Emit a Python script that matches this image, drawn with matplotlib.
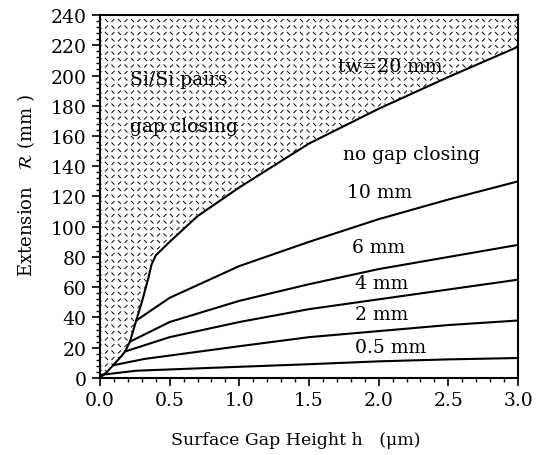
import numpy as np
import matplotlib.pyplot as plt
from matplotlib.collections import LineCollection
from matplotlib.ticker import MultipleLocator

# gap closing boundary (tw = 20 mm)
h_bound = [0, 0.05, 0.10, 0.15, 0.18, 0.215, 0.26, 0.30, 0.35, 0.37, 0.40, 0.50, 0.70, 1.00, 1.50, 2.00, 2.50, 3.00]
r_bound = [0, 4, 9, 14, 17.5, 24, 38, 50, 67, 75, 81, 90, 107, 126, 155, 178, 199, 219]

# curves for smaller widths
h_10 = [0.26, 0.5, 1.0, 1.5, 2.0, 2.5, 3.0]
r_10 = [38, 53, 74, 90, 105, 118, 130]
h_6 = [0.215, 0.5, 1.0, 1.5, 2.0, 2.5, 3.0]
r_6 = [24, 37, 51, 62, 72, 80, 88]
h_4 = [0.18, 0.5, 1.0, 1.5, 2.0, 2.5, 3.0]
r_4 = [17.5, 27, 37, 45.5, 52, 58.5, 65]
h_2 = [0.10, 0.32, 1.0, 1.5, 2.0, 2.5, 3.0]
r_2 = [8.5, 12.6, 21, 27, 31, 35, 38]
h_05 = [0.0, 0.26, 1.0, 1.5, 2.0, 2.5, 3.0]
r_05 = [2, 4.8, 7.4, 9.1, 11, 12.3, 13.2]

plt.rcParams['font.family'] = 'DejaVu Serif'

fig = plt.figure(figsize=(5.41, 4.56), dpi=100)
ax = fig.add_axes([0.1848, 0.1689, 0.7727, 0.796])

# hatched "gap closing" region
poly = ax.fill_between(h_bound, r_bound, 240, facecolor='white', edgecolor='none')
W, H = 418.0, 363.0
step = 6.5
segs = []
for j in range(int(H / step) + 2):
    for i in range(int(W / step) + 2):
        cx = i * step
        cy = j * step
        d = 1.5
        if (i + j) % 2 == 0:
            segs.append([((cx - d) / W, (cy + d) / H), ((cx + d) / W, (cy - d) / H)])
        else:
            segs.append([((cx - d) / W, (cy - d) / H), ((cx + d) / W, (cy + d) / H)])
lc = LineCollection(segs, colors='black', linewidths=0.7, transform=ax.transAxes)
lc.set_clip_path(poly.get_paths()[0], poly.get_transform())
ax.add_collection(lc)

for hh, rr in [(h_bound, r_bound), (h_10, r_10), (h_6, r_6), (h_4, r_4), (h_2, r_2), (h_05, r_05)]:
    ax.plot(hh, rr, color='black', linewidth=1.5)

ax.set_xlim(0, 3.0)
ax.set_ylim(0, 240)
ax.xaxis.set_major_locator(MultipleLocator(0.5))
ax.xaxis.set_minor_locator(MultipleLocator(0.1))
ax.yaxis.set_major_locator(MultipleLocator(20))
ax.yaxis.set_minor_locator(MultipleLocator(4))
ax.xaxis.set_major_formatter(plt.FormatStrFormatter('%.1f'))
ax.tick_params(which='major', direction='out', length=6, width=1.2, labelsize=13.5)
ax.tick_params(which='minor', direction='out', length=3, width=1)
for s in ax.spines.values():
    s.set_linewidth(1.5)

fs = 13.5
ax.text(0.215, 197.7, 'Si/Si pairs', fontsize=fs, va='center')
ax.text(0.215, 166.6, 'gap closing', fontsize=fs, va='center')
ax.text(1.71, 206, 'tw=20 mm', fontsize=fs, va='center')
ax.text(1.745, 148, 'no gap closing', fontsize=fs, va='center')
ax.text(1.77, 123, '10 mm', fontsize=fs, va='center')
ax.text(1.81, 86.6, '6 mm', fontsize=fs, va='center')
ax.text(1.83, 62.8, '4 mm', fontsize=fs, va='center')
ax.text(1.83, 42.3, '2 mm', fontsize=fs, va='center')
ax.text(1.83, 20.5, '0.5 mm', fontsize=fs, va='center')

fig.text(0.547, 0.035, 'Surface Gap Height h   (\u03bcm)', fontsize=12.5, ha='center', va='center')
fig.text(0.048, 0.594, 'Extension   $\\mathcal{R}$ (mm )', fontsize=13, rotation=90, ha='center', va='center')

fig.savefig('out.png', dpi=100)
